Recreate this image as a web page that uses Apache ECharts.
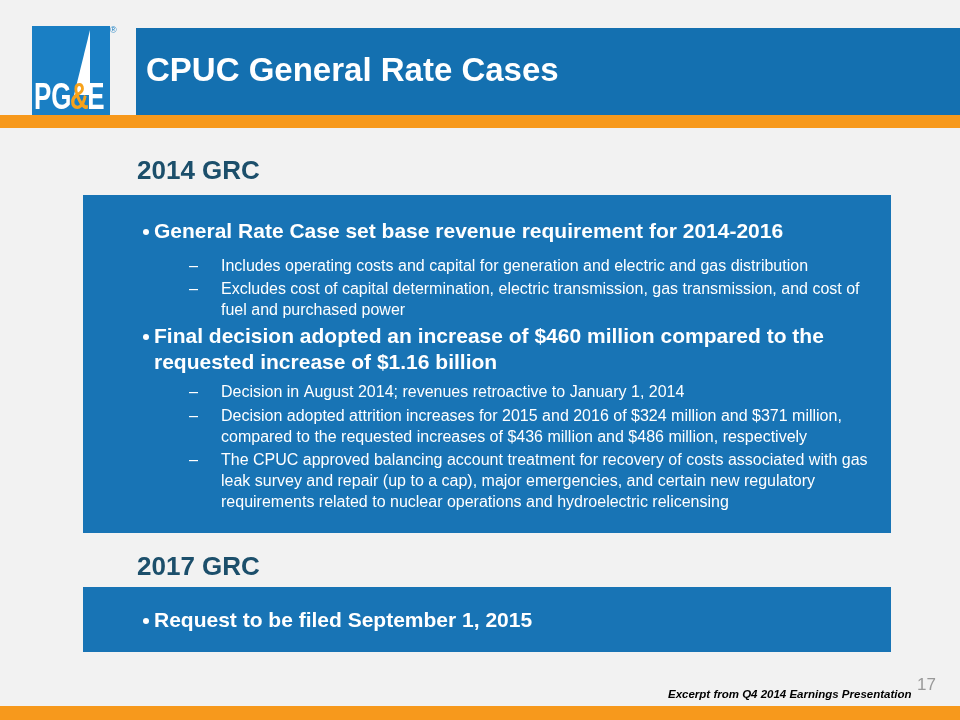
<!DOCTYPE html><html><head><meta charset="utf-8">
<script src="https://cdn.jsdelivr.net/npm/echarts@6/dist/echarts.min.js"></script>
<style>html,body{margin:0;padding:0;background:#f2f2f2}#c{width:960px;height:720px}</style></head><body><div id="c"></div>
<script>
const title = "CPUC General Rate Cases";
const heading1 = "2014 GRC";
const heading2 = "2017 GRC";
const box1Lines = [
  ["b","General Rate Case set base revenue requirement for 2014-2016",231],
  ["d","Includes operating costs and capital for generation and electric and gas distribution",265],
  ["d","Excludes cost of capital determination, electric transmission, gas transmission, and cost of\nfuel and purchased power",288],
  ["b","Final decision adopted an increase of $460 million compared to the\nrequested increase of $1.16 billion",336],
  ["d","Decision in August 2014; revenues retroactive to January 1, 2014",391],
  ["d","Decision adopted attrition increases for 2015 and 2016 of $324 million and $371 million,\ncompared to the requested increases of $436 million and $486 million, respectively",415],
  ["d","The CPUC approved balancing account treatment for recovery of costs associated with gas\nleak survey and repair (up to a cap), major emergencies, and certain new regulatory\nrequirements related to nuclear operations and hydroelectric relicensing",459]
];
const box2Lines = [["b","Request to be filed September 1, 2015",620]];
const footer = "Excerpt from Q4 2014 Earnings Presentation";
const pageNum = "17";
const F = "Liberation Sans, Arial, sans-serif";
const blue = "#1874b5";
const g = [];
g.push({type:'rect',shape:{x:0,y:0,width:960,height:720},style:{fill:'#f2f2f2'}});
g.push({type:'rect',shape:{x:32,y:26,width:78,height:90},style:{fill:'#1a7fc4'}});
g.push({type:'polygon',shape:{points:[[90,30],[74,95],[90,95]]},style:{fill:'#fff'}});
g.push({type:'group',x:34,y:81,scaleX:0.72,children:[
  {type:'text',x:0,y:0,style:{text:'PG',font:'bold 36px '+F,fill:'#fff'}},
  {type:'text',x:50,y:0,style:{text:'&',font:'bold 36px '+F,fill:'#f7a21b'}},
  {type:'text',x:74,y:0,style:{text:'E',font:'bold 36px '+F,fill:'#fff'}}
]});
g.push({type:'text',x:110,y:26,style:{text:'®',font:'9px '+F,fill:'#1a7fc4'}});
g.push({type:'rect',shape:{x:136,y:28,width:824,height:88},style:{fill:'#1470b0'}});
g.push({type:'rect',shape:{x:0,y:115,width:960,height:13},style:{fill:'#f7991c'}});
g.push({type:'rect',shape:{x:0,y:706,width:960,height:14},style:{fill:'#f7991c'}});
g.push({type:'text',x:146,y:55,style:{text:title,font:'bold 33px '+F,fill:'#fff'}});
g.push({type:'text',x:137,y:159,style:{text:heading1,font:'bold 26px '+F,fill:'#1c4f6b'}});
g.push({type:'text',x:137,y:555,style:{text:heading2,font:'bold 26px '+F,fill:'#1c4f6b'}});
g.push({type:'rect',shape:{x:83,y:195,width:808,height:338},style:{fill:blue}});
g.push({type:'rect',shape:{x:83,y:587,width:808,height:65},style:{fill:blue}});
function addLines(arr){arr.forEach(l=>{
  if(l[0]==='b'){
    g.push({type:'circle',shape:{cx:146,cy:l[2]+1,r:3},style:{fill:'#fff'}});
    g.push({type:'text',x:154,y:l[2]-12,style:{text:l[1],font:'bold 21px '+F,fill:'#fff',lineHeight:26}});
  } else {
    g.push({type:'rect',shape:{x:189,y:l[2]+1,width:9,height:1.2},style:{fill:'#fff'}});
    g.push({type:'text',x:221,y:l[2]-9,style:{text:l[1],font:'16px '+F,fill:'#fff',lineHeight:21}});
  }
});}
addLines(box1Lines);addLines(box2Lines);
g.push({type:'text',x:668,y:689,style:{text:footer,font:'italic bold 11.5px '+F,fill:'#000'}});
g.push({type:'text',x:917,y:677,style:{text:pageNum,font:'17px '+F,fill:'#999'}});
const chart = echarts.init(document.getElementById('c'));
chart.setOption({animation:false,graphic:g});
</script></body></html>
